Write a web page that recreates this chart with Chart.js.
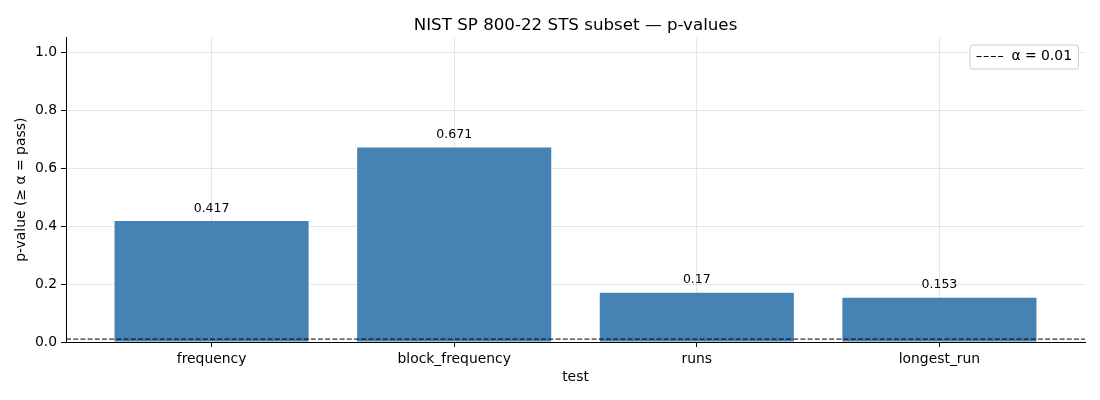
<!DOCTYPE html>
<html><head><meta charset="utf-8">
<script src="https://cdn.jsdelivr.net/npm/chart.js@4.4.1/dist/chart.umd.min.js"></script>
<style>html,body{margin:0;padding:0;background:#fff}#wrap{width:1100px;height:400px;position:relative}</style>
</head><body><div id="wrap"><canvas id="c"></canvas></div>
<script>
// ---- data ----
const categories = ['frequency', 'block_frequency', 'runs', 'longest_run'];
const pValues = [0.417, 0.671, 0.17, 0.153];
const alphaLevel = 0.01;
const alphaLabel = 'α = 0.01';
const yTicks = [0, 0.2, 0.4, 0.6, 0.8, 1.0];
const xLimits = [-0.6, 3.6];
const yLimits = [0, 1.05];

const FONT = 'DejaVu Sans';
Chart.defaults.font.family = FONT;
Chart.defaults.color = '#000';

const barData = categories.map((c, i) => ({x: i, y: pValues[i]}));
const alphaData = xLimits.map(x => ({x: x, y: alphaLevel}));

const valueLabels = {
  id: 'valueLabels',
  afterDraw(chart) {
    const meta = chart.getDatasetMeta(0);
    const ctx = chart.ctx;
    ctx.save();
    ctx.font = '12.5px ' + FONT;
    ctx.fillStyle = '#000';
    ctx.textAlign = 'center';
    ctx.textBaseline = 'middle';
    meta.data.forEach((bar, i) => {
      ctx.fillText(String(pValues[i]), bar.x, bar.y - 12.5);
    });
    ctx.restore();
  }
};

const legendInside = {
  id: 'legendInside',
  afterLayout(chart) {
    const lg = chart.legend, ca = chart.chartArea;
    if (!lg || !lg.legendHitBoxes.length) return;
    const pad = lg.options.labels.padding;
    const hb = lg.legendHitBoxes[0];
    const w = hb.width, h = hb.height;
    const targetRight = ca.right - 13;
    const targetCenterY = ca.top + 19;
    lg.left = targetRight - w - pad;
    lg.right = lg.left + w + 2 * pad;
    lg.width = lg.right - lg.left;
    lg.top = targetCenterY - h / 2 - pad;
    lg.bottom = lg.top + h + 2 * pad;
    lg.height = lg.bottom - lg.top;
  },
  afterDraw(chart) {
    const lg = chart.legend;
    if (!lg || !lg.legendHitBoxes.length) return;
    const hb = lg.legendHitBoxes[0];
    const ctx = chart.ctx;
    const cy = hb.top + hb.height / 2;
    const x0 = hb.left - 7, x1 = hb.left + hb.width + 6;
    const y0 = cy - 12, y1 = cy + 12;
    ctx.save();
    ctx.beginPath();
    if (ctx.roundRect) ctx.roundRect(x0 + 0.5, y0 + 0.5, x1 - x0, y1 - y0, 3);
    else ctx.rect(x0 + 0.5, y0 + 0.5, x1 - x0, y1 - y0);
    ctx.fillStyle = 'rgba(255,255,255,0.9)';
    ctx.fill();
    ctx.strokeStyle = '#cccccc';
    ctx.lineWidth = 1;
    ctx.stroke();
    ctx.restore();
    lg.draw();
  }
};

const gridColor = 'rgba(176,176,176,0.3)';

new Chart(document.getElementById('c'), {
  data: {
    datasets: [
      {
        type: 'bar',
        label: 'p-value',
        data: barData,
        backgroundColor: '#4682b4',
        borderWidth: 0,
        barPercentage: 0.8,
        categoryPercentage: 1.0,
        order: 1
      },
      {
        type: 'line',
        label: alphaLabel,
        data: alphaData,
        borderColor: '#000',
        borderWidth: 1,
        borderDash: [5, 2.2],
        pointRadius: 0,
        fill: false,
        order: 0
      }
    ]
  },
  options: {
    responsive: true,
    maintainAspectRatio: false,
    animation: false,
    events: [],
    layout: {padding: {left: 0, right: 15, top: 0, bottom: 0}},
    scales: {
      x: {
        type: 'linear',
        min: xLimits[0],
        max: xLimits[1],
        offset: false,
        z: 1,
        afterBuildTicks(scale) { scale.ticks = categories.map((c, i) => ({value: i})); },
        afterFit(scale) { scale.height = 58; },
        ticks: {
          callback: (v) => categories[v],
          font: {size: 13.9},
          color: '#000',
          padding: 4,
          maxRotation: 0,
          autoSkip: false
        },
        grid: {color: gridColor, lineWidth: 1, offset: false, tickColor: '#000', tickLength: 5, tickWidth: 1},
        border: {display: true, color: '#000', width: 1},
        title: {display: true, text: 'test', font: {size: 13.9}, color: '#000', padding: {top: 0, bottom: 14}}
      },
      y: {
        type: 'linear',
        min: yLimits[0],
        max: yLimits[1],
        z: 1,
        afterBuildTicks(scale) { scale.ticks = yTicks.map(v => ({value: v})); },
        afterFit(scale) { scale.width = 66; },
        ticks: {
          callback: (v) => Number(v).toFixed(1),
          font: {size: 13.9},
          color: '#000',
          padding: 4
        },
        grid: {color: gridColor, lineWidth: 1, tickColor: '#000', tickLength: 5, tickWidth: 1},
        border: {display: true, color: '#000', width: 1},
        title: {display: true, text: 'p-value (≥ α = pass)', font: {size: 13.9}, color: '#000', padding: {top: 13, bottom: 0}}
      }
    },
    plugins: {
      title: {
        display: true,
        fullSize: false,
        text: 'NIST SP 800-22 STS subset — p-values',
        font: {size: 16.7, weight: 'normal'},
        color: '#000',
        padding: {top: 16, bottom: 1.5}
      },
      legend: {
        display: true,
        position: 'chartArea',
        align: 'start',
        labels: {
          filter: (item) => item.datasetIndex === 1,
          generateLabels: (chart) => Chart.defaults.plugins.legend.labels.generateLabels(chart).map(l => Object.assign(l, {
            lineDash: chart.data.datasets[l.datasetIndex].borderDash,
            lineWidth: chart.data.datasets[l.datasetIndex].borderWidth,
            strokeStyle: chart.data.datasets[l.datasetIndex].borderColor
          })),
          usePointStyle: true,
          pointStyle: 'line',
          pointStyleWidth: 28,
          boxHeight: 10,
          font: {size: 13.9},
          color: '#000',
          padding: 10
        }
      },
      tooltip: {enabled: false}
    }
  },
  plugins: [valueLabels, legendInside]
});
</script>
</body></html>
